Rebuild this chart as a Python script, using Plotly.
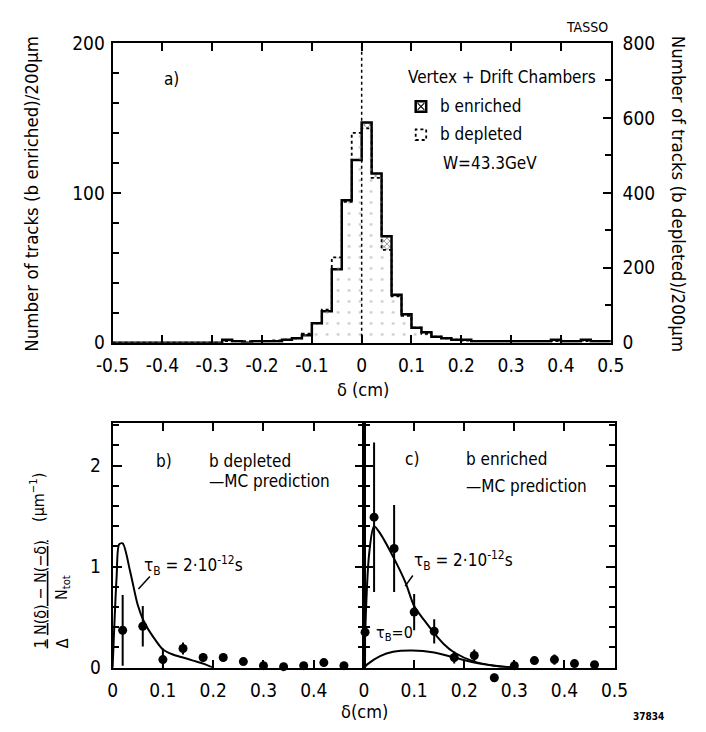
import plotly.graph_objects as go

W, H = 706, 732

# ---------------- data: panel a) histograms (bins of 200 um = 0.02 cm) ----------------
bin_edges = [round(-0.50 + 0.02 * i, 2) for i in range(51)]
enriched = [0, 0, 0, 0, 0, 0, 0, 0, 0, 0,
            0, 2, 1, 0, 1, 1, 1, 2, 3, 5,
            13, 21, 49, 95, 122, 147, 113, 71, 32, 19,
            10, 7, 4, 3, 2, 2, 1, 1, 1, 1,
            1, 1, 1, 1, 2, 1, 1, 2, 1, 1]
depleted = [0, 0, 0, 0, 0, 0, 0, 0, 0, 0,
            0, 4, 4, 4, 4, 4, 6, 8, 12, 24,
            52, 88, 228, 376, 560, 572, 440, 248, 124, 72,
            40, 24, 16, 12, 8, 6, 4, 4, 4, 4,
            4, 4, 4, 4, 4, 4, 4, 4, 4, 4]
x_ticks_a = [-0.5, -0.4, -0.3, -0.2, -0.1, 0, 0.1, 0.2, 0.3, 0.4, 0.5]
x_labels_a = ["-0.5", "-0.4", "-0.3", "-0.2", "-0.1", "0", "0.1", "0.2", "0.3", "0.4", "0.5"]

# ---------------- data: panel b) b depleted ----------------
xb = [0.02, 0.06, 0.10, 0.14, 0.18, 0.22, 0.26, 0.30, 0.34, 0.38, 0.42, 0.46]
yb = [0.37, 0.41, 0.08, 0.19, 0.10, 0.10, 0.06, 0.02, 0.01, 0.02, 0.05, 0.02]
eb = [0.35, 0.20, 0.11, 0.06, 0.04, 0.04, 0.03, 0.03, 0.03, 0.03, 0.03, 0.03]
mc_b_x = [0, 0.008, 0.013, 0.02, 0.035, 0.05, 0.062, 0.08, 0.10, 0.12, 0.14, 0.16, 0.18, 0.20]
mc_b_y = [0, 0.9, 1.22, 1.23, 0.95, 0.62, 0.46, 0.31, 0.18, 0.13, 0.10, 0.07, 0.04, 0.0]

# ---------------- data: panel c) b enriched ----------------
xc = [0.002, 0.02, 0.06, 0.10, 0.14, 0.18, 0.22, 0.26, 0.30, 0.34, 0.38, 0.42, 0.46]
yc = [0.35, 1.49, 1.18, 0.55, 0.36, 0.10, 0.12, -0.10, 0.02, 0.07, 0.08, 0.04, 0.03]
ec = [0.25, 0.74, 0.43, 0.18, 0.12, 0.06, 0.06, 0.04, 0.02, 0.03, 0.05, 0.03, 0.02]
mc_c_x = [0, 0.01, 0.02, 0.032, 0.062, 0.083, 0.10, 0.12, 0.142, 0.16, 0.18, 0.22, 0.26, 0.30]
mc_c_y = [0, 1.12, 1.40, 1.33, 1.06, 0.84, 0.61, 0.47, 0.33, 0.23, 0.15, 0.06, 0.02, 0.0]
mc0_x = [0, 0.007, 0.032, 0.058, 0.096, 0.14, 0.18, 0.22, 0.26, 0.30]
mc0_y = [0, 0.035, 0.115, 0.157, 0.17, 0.15, 0.10, 0.05, 0.02, 0.0]
x_ticks_b = [0, 0.1, 0.2, 0.3, 0.4]
x_labels_b = ["0", "0.1", "0.2", "0.3", "0.4"]
x_ticks_c = [0, 0.1, 0.2, 0.3, 0.4, 0.5]
x_labels_c = ["0", "0.1", "0.2", "0.3", "0.4", "0.5"]

FONT = "DejaVu Sans Condensed, DejaVu Sans, sans-serif"
TICK = 19
TXT = 17


def X(p):
    return p / W


def Y(p):
    return 1 - p / H


centers = [(bin_edges[i] + bin_edges[i + 1]) / 2 for i in range(len(enriched))]
dep_scaled = [d / 4 for d in depleted]
excess = [max(e - d, 0) for e, d in zip(enriched, dep_scaled)]

fig = go.Figure()

# stipple fill of depleted histogram
fig.add_trace(go.Bar(x=centers, y=depleted, width=0.02, xaxis="x", yaxis="y2",
                     marker=dict(color="rgba(255,255,255,0)", line_width=0,
                                 pattern=dict(shape=".", fgcolor="#999", size=11, solidity=0.05)),
                     hoverinfo="skip", showlegend=False))
# hatched part where enriched exceeds depleted
fig.add_trace(go.Bar(x=centers, y=excess, base=dep_scaled, width=0.02, xaxis="x", yaxis="y",
                     marker=dict(color="white", line_width=0,
                                 pattern=dict(shape="x", fgcolor="black", size=4, solidity=0.35)),
                     hoverinfo="skip", showlegend=False))
# enriched outline
fig.add_trace(go.Scatter(x=bin_edges, y=enriched + [enriched[-1]], mode="lines",
                         line=dict(shape="hv", color="black", width=2.5),
                         xaxis="x", yaxis="y", showlegend=False))
# depleted outline (right axis)
fig.add_trace(go.Scatter(x=bin_edges, y=depleted + [depleted[-1]], mode="lines",
                         line=dict(shape="hv", color="black", width=1.8, dash="dot"),
                         xaxis="x", yaxis="y2", showlegend=False))

# panel b
fig.add_trace(go.Scatter(x=mc_b_x, y=mc_b_y, mode="lines",
                         line=dict(color="black", width=2, shape="spline", smoothing=0.8),
                         xaxis="x2", yaxis="y3", showlegend=False))
fig.add_trace(go.Scatter(x=xb, y=yb, mode="markers",
                         marker=dict(symbol="circle", size=9, color="black"),
                         error_y=dict(type="data", array=eb, width=0, thickness=2, color="black"),
                         xaxis="x2", yaxis="y3", cliponaxis=False, showlegend=False))
# panel c
fig.add_trace(go.Scatter(x=mc_c_x, y=mc_c_y, mode="lines",
                         line=dict(color="black", width=2, shape="spline", smoothing=0.8),
                         xaxis="x3", yaxis="y4", showlegend=False))
fig.add_trace(go.Scatter(x=mc0_x, y=mc0_y, mode="lines",
                         line=dict(color="black", width=2, shape="spline", smoothing=0.8),
                         xaxis="x3", yaxis="y4", showlegend=False))
# data points of c) drawn on an invisible twin axis that extends 20 px below the frame,
# so that the negative point under the baseline stays visible
fig.add_trace(go.Scatter(x=xc, y=yc, mode="markers",
                         marker=dict(symbol="circle", size=9, color="black"),
                         error_y=dict(type="data", array=ec, width=0, thickness=2, color="black"),
                         xaxis="x4", yaxis="y5", cliponaxis=False, showlegend=False))

ax = dict(showline=True, linecolor="black", linewidth=2, ticks="inside", tickcolor="black",
          tickwidth=2, showgrid=False, zeroline=False,
          tickfont=dict(family=FONT, size=TICK, color="black"))
minor_style = dict(ticks="inside", ticklen=6, tickcolor="black", tickwidth=1.5)

ytop_b, ybot_b = 425, 677
y_hi = 2.42
per_px = y_hi / (ybot_b - ytop_b)

fig.update_layout(
    width=W, height=H, margin=dict(l=0, r=0, t=0, b=0),
    paper_bgcolor="white", plot_bgcolor="rgba(0,0,0,0)", barmode="overlay",
    font=dict(family=FONT, color="black"),
    xaxis=dict(ax, domain=[X(100), X(621)], range=[-0.5, 0.5], anchor="y", mirror="ticks",
               tickvals=x_ticks_a, ticktext=x_labels_a, ticklen=8, ticklabelstandoff=4),
    yaxis=dict(ax, domain=[Y(342), Y(33)], range=[0, 200], anchor="x",
               tickvals=[0, 100, 200], ticklen=8, ticklabelstandoff=2,
               minor=dict(minor_style, dtick=20)),
    yaxis2=dict(ax, overlaying="y", side="right", range=[0, 800], anchor="x",
                tickvals=[0, 200, 400, 600, 800], ticklen=8, ticklabelstandoff=6,
                minor=dict(minor_style, dtick=100)),
    xaxis2=dict(ax, domain=[X(100), X(363)], range=[0, 0.5], anchor="y3", mirror="ticks",
                tickvals=x_ticks_b, ticktext=x_labels_b, ticklen=8, ticklabelstandoff=5),
    yaxis3=dict(ax, domain=[Y(ybot_b), Y(ytop_b)], range=[0, y_hi], anchor="x2", mirror="ticks",
                tickvals=[0, 1, 2], ticklen=9, ticklabelstandoff=6,
                minor=dict(minor_style, dtick=0.2)),
    xaxis3=dict(ax, domain=[X(363), X(625)], range=[0, 0.5], anchor="y4", mirror="ticks",
                tickvals=x_ticks_c, ticktext=x_labels_c, ticklen=8, ticklabelstandoff=5),
    yaxis4=dict(ax, domain=[Y(ybot_b), Y(ytop_b)], range=[0, y_hi], anchor="x3", mirror="ticks",
                showticklabels=False, tickvals=[0, 1, 2], ticklen=9,
                minor=dict(minor_style, dtick=0.2)),
    xaxis4=dict(visible=False, domain=[X(363), X(625)], range=[0, 0.5], anchor="y5"),
    yaxis5=dict(visible=False, domain=[Y(ybot_b + 20), Y(ytop_b)],
                range=[-20 * per_px, y_hi], anchor="x4"),
)

# dotted centre line in panel a
fig.add_shape(type="line", xref="x", yref="y", x0=0, x1=0, y0=0, y1=200,
              line=dict(color="black", width=1.5, dash="dot"))

# legend symbols
fig.add_shape(type="rect", xref="paper", yref="paper", x0=X(417), x1=X(428), y0=Y(104), y1=Y(93),
              line=dict(color="black", width=2.5))
fig.add_shape(type="line", xref="paper", yref="paper", x0=X(419), x1=X(426), y0=Y(102), y1=Y(95),
              line=dict(color="black", width=1.2))
fig.add_shape(type="line", xref="paper", yref="paper", x0=X(419), x1=X(426), y0=Y(95), y1=Y(102),
              line=dict(color="black", width=1.2))
fig.add_shape(type="rect", xref="paper", yref="paper", x0=X(417), x1=X(428), y0=Y(133), y1=Y(122),
              line=dict(color="black", width=1.8, dash="dot"))

# leader lines
fig.add_shape(type="line", xref="paper", yref="paper", x0=X(127), x1=X(139), y0=Y(596), y1=Y(583),
              line=dict(color="black", width=1.5))
fig.add_shape(type="line", xref="paper", yref="paper", x0=X(406), x1=X(414), y0=Y(593), y1=Y(582),
              line=dict(color="black", width=1.5))


def txt(x, y, s, size=TXT, xanchor="left", angle=0):
    fig.add_annotation(x=X(x), y=Y(y), xref="paper", yref="paper", text=s, showarrow=False,
                       xanchor=xanchor, yanchor="middle", textangle=angle,
                       font=dict(family=FONT, size=size, color="black"))


txt(596, 16, "TASSO", 14, "center")
txt(152, 70, "a)")
txt(507, 68, "Vertex + Drift Chambers", 17, "center")
txt(440, 98, "b enriched")
txt(440, 127, "b depleted")
txt(443, 157, "W=43.3GeV")
txt(362, 390, "δ (cm)", 18, "center")
txt(15, 188, "Number of tracks (b enriched)/200μm", 18.5, "center", -90)
txt(692, 188, "Number of tracks (b depleted)/200μm", 18.5, "center", 90)

# panel b/c texts
txt(143, 464, "b)")
txt(199, 464, "b depleted")
txt(199, 485, "—MC prediction")
txt(131, 572, "τ<sub>B</sub> = 2·10<sup>-12</sup>s")
txt(404, 462, "c)")
txt(468, 462, "b enriched")
txt(468, 490, "—MC prediction")
txt(413, 567, "τ<sub>B</sub> = 2·10<sup>-12</sup>s")
txt(373, 642, "τ<sub>B</sub>=0", 16)
txt(363, 722, "δ(cm)", 18, "center")
txt(660, 727, "<b>37834</b>", 10, "center")

# y title of lower panels (fraction)
txt(24, 652, "<u>1</u>", 16, "center", -90)
txt(24, 594, "<u>N(δ) − N(−δ)</u>", 16, "center", -90)
txt(22, 502, "(μm<sup>−1</sup>)", 16, "center", -90)
txt(47, 652, "Δ", 16, "center", -90)
txt(47, 594, "N<sub>tot</sub>", 16, "center", -90)

fig.write_html("out.html")
